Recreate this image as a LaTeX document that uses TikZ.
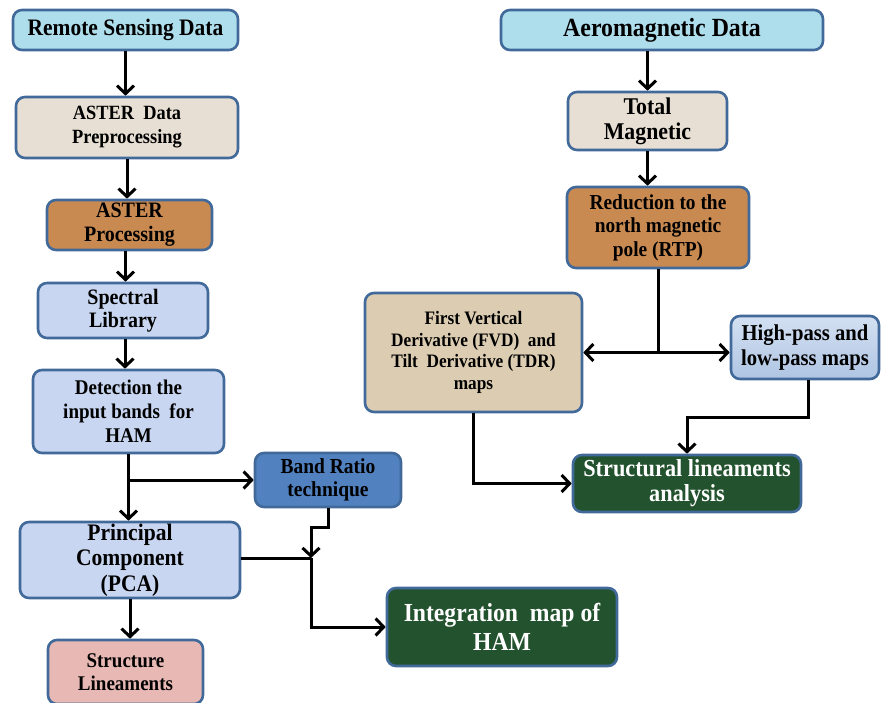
\documentclass[tikz,border=0pt]{standalone}
\usepackage{fontspec}
\setmainfont{Liberation Serif}[FakeStretch=0.91]
\usetikzlibrary{arrows.meta,positioning,calc}
\definecolor{boxline}{HTML}{41699A}
\definecolor{waterblue}{HTML}{AEDDEC}
\definecolor{sandbeige}{HTML}{E7DFD3}
\definecolor{woodbrown}{HTML}{C98A52}
\definecolor{lavblue}{HTML}{C8D6F1}
\definecolor{ratioblue}{HTML}{5181BF}
\definecolor{mossgreen}{HTML}{23522E}
\definecolor{rosepink}{HTML}{E8B9B4}
\definecolor{burlap}{HTML}{DCCDB2}
\definecolor{paleblue}{HTML}{D3E0F2}
\definecolor{midblue}{HTML}{AFC5E3}

\begin{document}
\begin{tikzpicture}[x=1pt,y=-1pt,>={Straight Barb[length=8pt,width=17pt]},line width=3pt]
	\tikzstyle{block} = [draw=boxline,rectangle,rounded corners=9pt,line width=2.6pt,align=center,inner sep=1pt,font=\bfseries\fontsize{20.9}{24}\selectfont]
	\useasboundingbox (0,0) rectangle (883,703);
	
	% remote sensing branch
	\node[block,fill=waterblue,minimum width=225,minimum height=40,font=\bfseries\fontsize{23.6}{26}\selectfont] (RSD) at (125.5,30) {Remote Sensing Data};
	\node[block,fill=sandbeige,minimum width=222,minimum height=61,font=\bfseries\fontsize{20.2}{24}\selectfont] (PRE) at (127,127.5) {ASTER~ Data\\Preprocessing};
	\node[block,fill=woodbrown,minimum width=165,minimum height=50,font=\bfseries\fontsize{22}{24}\selectfont] (ASP) at (129.5,225) {ASTER\\Processing};
	\node[block,fill=lavblue,minimum width=170,minimum height=55,font=\bfseries\fontsize{22}{23}\selectfont] (SPEC) at (123,310.5) {Spectral\\Library};
	\node[block,fill=lavblue,minimum width=191,minimum height=83] (DET) at (128.5,411.5) {Detection the\\input bands~ for\\HAM};
	\node[block,fill=ratioblue,minimum width=146,minimum height=54,font=\bfseries\fontsize{21.4}{23}\selectfont] (BAND) at (328,480) {Band Ratio\\technique};
	\node[block,fill=lavblue,minimum width=220,minimum height=76,font=\bfseries\fontsize{23.7}{25.5}\selectfont] (PCA) at (130,560) {Principal\\Component\\(PCA)};
	\node[block,fill=rosepink,minimum width=155,minimum height=64,font=\bfseries\fontsize{20.9}{23}\selectfont] (SL) at (125.5,672) {Structure\\Lineaments};
	\node[block,fill=mossgreen,text=white,minimum width=230,minimum height=78,font=\bfseries\fontsize{26}{29}\selectfont] (INT) at (502,627) {Integration~ map of\\HAM};
	
	% aeromagnetic branch
	\node[block,fill=waterblue,minimum width=322,minimum height=40,font=\bfseries\fontsize{26.2}{26}\selectfont] (AERO) at (662,30) {Aeromagnetic Data};
	\node[block,fill=sandbeige,minimum width=159,minimum height=58,font=\bfseries\fontsize{24}{25}\selectfont] (TOT) at (647.5,121) {Total\\Magnetic};
	\node[block,fill=woodbrown,minimum width=182,minimum height=81,font=\bfseries\fontsize{21.3}{23.5}\selectfont] (RTP) at (658,227.5) {Reduction to the\\north magnetic\\pole (RTP)};
	\node[block,fill=burlap,minimum width=217,minimum height=119,font=\bfseries\fontsize{19}{21.5}\selectfont] (FVD) at (473.5,352.5) {First Vertical\\Derivative (FVD)~ and\\Tilt~ Derivative (TDR)\\maps};
	\node[block,top color=paleblue,bottom color=midblue,minimum width=148,minimum height=63,font=\bfseries\fontsize{22.7}{25}\selectfont] (HP) at (805,347.5) {High-pass and\\low-pass maps};
	\node[block,fill=mossgreen,text=white,minimum width=228,minimum height=57,font=\bfseries\fontsize{24.5}{25}\selectfont] (SLA) at (687,483.5) {Structural lineaments\\analysis};
	
	\coordinate (split1) at (DET.south |- BAND.west);
	\coordinate (jog) at (311,527);
	\coordinate (join) at (311,558);
	\coordinate (split2) at (RTP.south |- FVD.east);
	
	\draw[->] (RSD.south) -- (RSD.south |- PRE.north);
	\draw[->] (PRE.south) -- (PRE.south |- ASP.north);
	\draw[->] ([xshift=-4pt]ASP.south) -- ([xshift=-4pt]ASP.south |- SPEC.north);
	\draw[->] ([xshift=2pt]SPEC.south) -- ([xshift=2pt]SPEC.south |- DET.north);
	\draw[->] (DET.south) -- (DET.south |- PCA.north);
	\draw[->] (split1) -- (BAND.west);
	\draw[->] (BAND.south) |- (jog) -- (join);
	\draw (PCA.east |- join) -- (join);
	\draw[->] (join) |- (INT.west);
	\draw[->] (PCA.south) -- (PCA.south |- SL.north);
	
	\draw[->] (TOT.north |- AERO.south) -- (TOT.north);
	\draw[->] (TOT.south) -- (TOT.south |- RTP.north);
	\draw (RTP.south) -- (split2);
	\draw[->] (split2) -- (FVD.east);
	\draw[->] (split2) -- (split2 -| HP.west);
	\draw[->] (FVD.south) |- (SLA.west);
	\draw[->] ([xshift=3pt]HP.south) -- ++(0,37) -| (SLA.north);
\end{tikzpicture}
\end{document}
